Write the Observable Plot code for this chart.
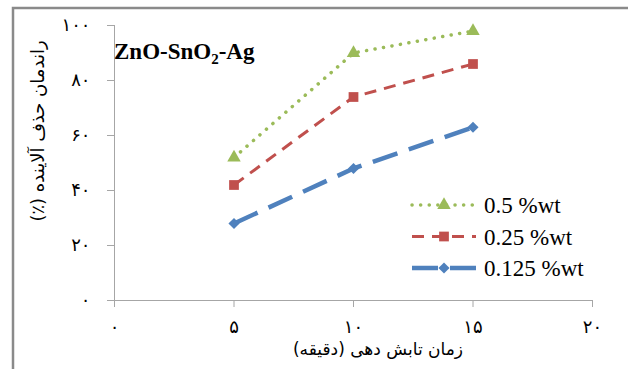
<!DOCTYPE html>
<html><head><meta charset="utf-8">
<script src="https://cdn.jsdelivr.net/npm/d3@7"></script>
<script src="https://cdn.jsdelivr.net/npm/@observablehq/plot@0.6"></script>
<style>
html,body{margin:0;padding:0;background:#fff;}
#chart{position:relative;width:628px;height:369px;overflow:hidden;}
</style></head><body><div id="chart"></div>
<script>
// ---- data ----
const times = [5, 10, 15];
const wt05 = [52, 90, 98];
const wt025 = [42, 74, 86];
const wt0125 = [28, 48, 63];
const seriesNames = ["0.5 %wt", "0.25 %wt", "0.125 %wt"];
const xTicks = [0, 5, 10, 15, 20];
const yTicks = [0, 20, 40, 60, 80, 100];
const xTitle = "زمان تابش دهی (دقیقه)";
const yTitle = "راندمان حذف آلاینده (٪)";
const chartTitle = ["ZnO-SnO", "2", "-Ag"];

const persianDigits = "۰۱۲۳۴۵۶۷۸۹";
const fa = n => String(n).replace(/\d/g, d => persianDigits[d]);

const series = [
  {name: seriesNames[0], values: wt05,   color: "#9BBB59", symbol: "triangle", dash: "0.1 8.5", width: 3.5, cap: "round", r: 5},
  {name: seriesNames[1], values: wt025,  color: "#C0504D", symbol: "square",   dash: "12 8",    width: 3,   cap: "butt",  r: 5.5},
  {name: seriesNames[2], values: wt0125, color: "#4F81BD", symbol: "diamond2", dash: "26 12",   width: 4.5, cap: "butt",  r: 5}
];
const rows = s => times.map((t, i) => ({time: t, value: s.values[i], series: s.name}));

const axisGray = "#a6a6a6";
const marks = [
  Plot.ruleX([0], {stroke: axisGray}),
  Plot.ruleY([0], {stroke: axisGray}),
  Plot.axisX({ticks: xTicks, tickSize: 7, tickPadding: 13, stroke: axisGray, tickFormat: fa, fontSize: 18, label: null}),
  Plot.axisY({ticks: yTicks, tickSize: 7, tickPadding: 17, stroke: axisGray, tickFormat: fa, fontSize: 18, label: null})
];
for (const s of series) {
  marks.push(Plot.line(rows(s), {x: "time", y: "value", stroke: s.color, strokeWidth: s.width,
    strokeDasharray: s.dash, strokeLinecap: s.cap}));
}
for (const s of series) {
  marks.push(Plot.dot(rows(s), {x: "time", y: "value", fill: s.color, symbol: s.symbol, r: s.r, stroke: "none"}));
}

const plot = Plot.plot({
  width: 628, height: 369,
  marginLeft: 114, marginRight: 36, marginTop: 25, marginBottom: 69,
  x: {domain: [0, 20]},
  y: {domain: [0, 100]},
  style: {fontFamily: "DejaVu Sans", background: "white", color: "black"},
  marks
});
document.getElementById("chart").appendChild(plot);

const svg = d3.select(plot);
// outer frame (top and left edges visible)
svg.append("path").attr("d", "M13,369V8H628").attr("fill", "none").attr("stroke", "#8a8a8a").attr("stroke-width", 2.5);

// title
const t = svg.append("text").attr("x", 114).attr("y", 59).attr("text-anchor", "start")
  .style("font-family", "'Liberation Serif', serif").style("font-weight", "bold").style("font-size", "23px").attr("fill", "black");
t.append("tspan").text(chartTitle[0]);
t.append("tspan").style("font-size", "15px").attr("dy", 5).text(chartTitle[1]);
t.append("tspan").attr("dy", -5).text(chartTitle[2]);

// axis titles
svg.append("text").attr("x", 378).attr("y", 355).attr("text-anchor", "middle").attr("direction", "rtl")
  .style("font-family", "'DejaVu Sans'").style("font-size", "17px").attr("fill", "black").text(xTitle);
svg.append("text").attr("transform", "translate(44,131) rotate(-90)").attr("text-anchor", "middle").attr("direction", "rtl")
  .style("font-family", "'DejaVu Sans'").style("font-size", "18px").attr("fill", "black").text(yTitle);

// legend
const lg = svg.append("g").attr("transform", "translate(410,205)");
const symMap = {triangle: d3.symbolTriangle, square: d3.symbolSquare, diamond2: d3.symbolDiamond2};
series.forEach((s, i) => {
  const g = lg.append("g").attr("transform", `translate(0,${i * 31.5})`);
  g.append("line").attr("x1", 2).attr("x2", 66).attr("y1", 0).attr("y2", 0)
    .attr("stroke", s.color).attr("stroke-width", s.width).attr("stroke-dasharray", s.dash).attr("stroke-linecap", s.cap);
  g.append("path").attr("transform", "translate(34,0)")
    .attr("d", d3.symbol(symMap[s.symbol], Math.PI * s.r * s.r)()).attr("fill", s.color);
  g.append("text").attr("x", 74).attr("y", 0).attr("dy", "0.35em").attr("text-anchor", "start")
    .style("font-family", "'Liberation Serif', serif").style("font-size", "23px").attr("fill", "black").text(s.name);
});
</script></body></html>
